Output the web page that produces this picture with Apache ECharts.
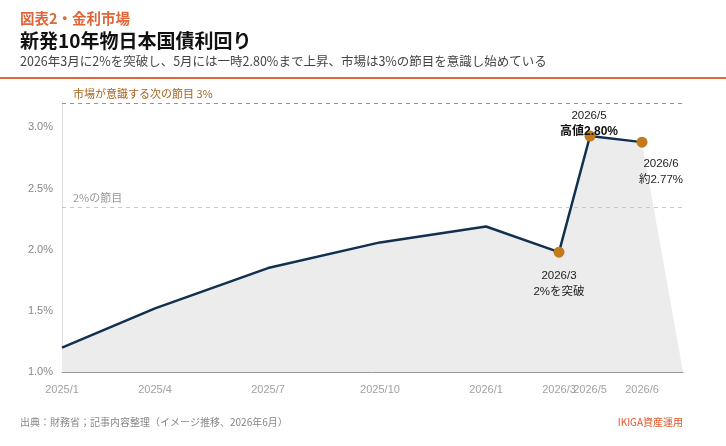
<!DOCTYPE html>
<html lang="ja">
<head>
    <meta charset="UTF-8">
    <script src="https://cdn.jsdelivr.net/npm/echarts@6/dist/echarts.min.js"></script>
    <title>新発10年物日本国債利回り</title>
    <style>
        body { margin: 0; background: #fff; }
    </style>
</head>
<body>
<div id="main" style="width: 726px;height: 446px"></div>
<script type="text/javascript">
    // 月ラベル（横位置は元図の並びのまま）
    var months = ['2025/1', '2025/4', '2025/7', '2025/10', '2026/1', '2026/3', '2026/5', '2026/6'];
    var xPos = [0, 93, 206, 318, 424, 497, 528, 580];
    var xEnd = 621;
    // 利回り（%）
    var yields = [1.20, 1.52, 1.85, 2.06, 2.19, 1.98, 2.93, 2.88];
    // 節目ライン
    var level3 = 3.2;
    var level2 = 2.35;
    var yTicks = [1.0, 1.5, 2.0, 2.5, 3.0];

    // 注目ポイント
    var notes = [
        { idx: 5, text: '2026/3\n2%を突破' },
        { idx: 6, text: '2026/5\n{b|高値2.80%}' },
        { idx: 7, text: '2026/6\n約2.77%' }
    ];

    var FONT = '"Liberation Sans", "Noto Sans CJK JP", sans-serif';
    var CJK = '"Noto Sans CJK JP", "Liberation Sans", sans-serif';

    var lineData = xPos.map(function (x, i) { return [x, yields[i]]; });
    var areaData = lineData.concat([[xEnd, yTicks[0]]]);
    var labelData = xPos.map(function (x, i) { return { value: [x, yTicks[0]], name: months[i] }; });

    var noteData = notes.map(function (n) {
        var d = { value: lineData[n.idx], label: { formatter: n.text } };
        if (n.idx === 5) { d.label.position = 'bottom'; d.label.distance = 10; }
        if (n.idx === 6) { d.label.position = 'top'; d.label.distance = 0; d.label.offset = [-1, 9]; }
        if (n.idx === 7) { d.label.position = 'bottom'; d.label.distance = 8; d.label.offset = [19, 0]; }
        return d;
    });

    var myChart = echarts.init(document.getElementById("main"));

    myChart.setOption({
        animation: false,
        textStyle: { fontFamily: FONT },
        grid: { left: 62, right: 43, top: 103, bottom: 74 },
        graphic: [
            { type: 'text', left: 20, top: 11, style: { text: '図表2・金利市場', fill: '#e0663a', font: 'bold 14.5px ' + CJK } },
            { type: 'text', left: 20, top: 31, style: { text: '新発10年物日本国債利回り', fill: '#111', font: 'bold 19px ' + CJK } },
            { type: 'text', left: 20, top: 55, style: { text: '2026年3月に2%を突破し、5月には一時2.80%まで上昇、市場は3%の節目を意識し始めている', fill: '#444', font: '12.5px ' + CJK } },
            { type: 'rect', shape: { x: 0, y: 77, width: 726, height: 2 }, style: { fill: '#e0663a' } },
            { type: 'text', left: 20, top: 417, style: { text: '出典：財務省；記事内容整理（イメージ推移、2026年6月）', fill: '#888', font: '10px ' + CJK } },
            { type: 'text', right: 43, top: 417, style: { text: 'IKIGA資産運用', fill: '#e0552a', font: '10px ' + CJK } }
        ],
        xAxis: {
            type: 'value',
            min: 0,
            max: xEnd,
            axisLine: { show: true, lineStyle: { color: '#999', width: 1 } },
            axisTick: { show: false },
            axisLabel: { show: false },
            splitLine: { show: false }
        },
        yAxis: {
            type: 'value',
            min: yTicks[0],
            max: level3,
            interval: 0.5,
            axisLine: { show: true, lineStyle: { color: '#ddd', width: 1 } },
            axisTick: { show: false },
            splitLine: { show: false },
            axisLabel: {
                color: '#888',
                fontSize: 11,
                fontFamily: FONT,
                margin: 9,
                formatter: function (v) {
                    return yTicks.some(function (t) { return Math.abs(t - v) < 1e-6; }) ? v.toFixed(1) + '%' : '';
                }
            }
        },
        series: [
            {
                type: 'line',
                data: areaData,
                symbol: 'none',
                lineStyle: { width: 0 },
                areaStyle: { color: '#ececec', opacity: 1, origin: 'start' },
                silent: true,
                z: 1,
                markLine: {
                    silent: true,
                    symbol: 'none',
                    data: [
                        {
                            yAxis: level3,
                            lineStyle: { color: '#c8893a', type: [4, 4], width: 1 },
                            label: { show: true, position: 'insideStartTop', formatter: '市場が意識する次の節目 3%', color: '#a8641e', fontSize: 11, fontFamily: CJK, distance: [11, 4] }
                        },
                        {
                            yAxis: level2,
                            lineStyle: { color: '#c8c8c8', type: [4, 4], width: 1.2 },
                            label: { show: true, position: 'insideStartTop', formatter: '2%の節目', color: '#999', fontSize: 11, fontFamily: CJK, distance: [11, 4] }
                        }
                    ]
                }
            },
            {
                type: 'line',
                data: lineData,
                symbol: 'none',
                lineStyle: { color: '#12304f', width: 2.5 },
                z: 3
            },
            {
                type: 'scatter',
                data: noteData,
                symbolSize: 11,
                itemStyle: { color: '#c27a1a', opacity: 1 },
                label: {
                    show: true,
                    color: '#222',
                    fontSize: 11.5,
                    fontFamily: FONT,
                    lineHeight: 16,
                    align: 'center',
                    rich: { b: { fontWeight: 'bold', fontSize: 12, color: '#111', lineHeight: 16, fontFamily: FONT } }
                },
                z: 4
            },
            {
                type: 'scatter',
                data: labelData,
                symbolSize: 0,
                silent: true,
                clip: false,
                label: {
                    show: true,
                    position: 'bottom',
                    distance: 12,
                    color: '#888',
                    fontSize: 11,
                    fontFamily: FONT,
                    formatter: '{b}'
                }
            }
        ]
    });
</script>
</body>
</html>
